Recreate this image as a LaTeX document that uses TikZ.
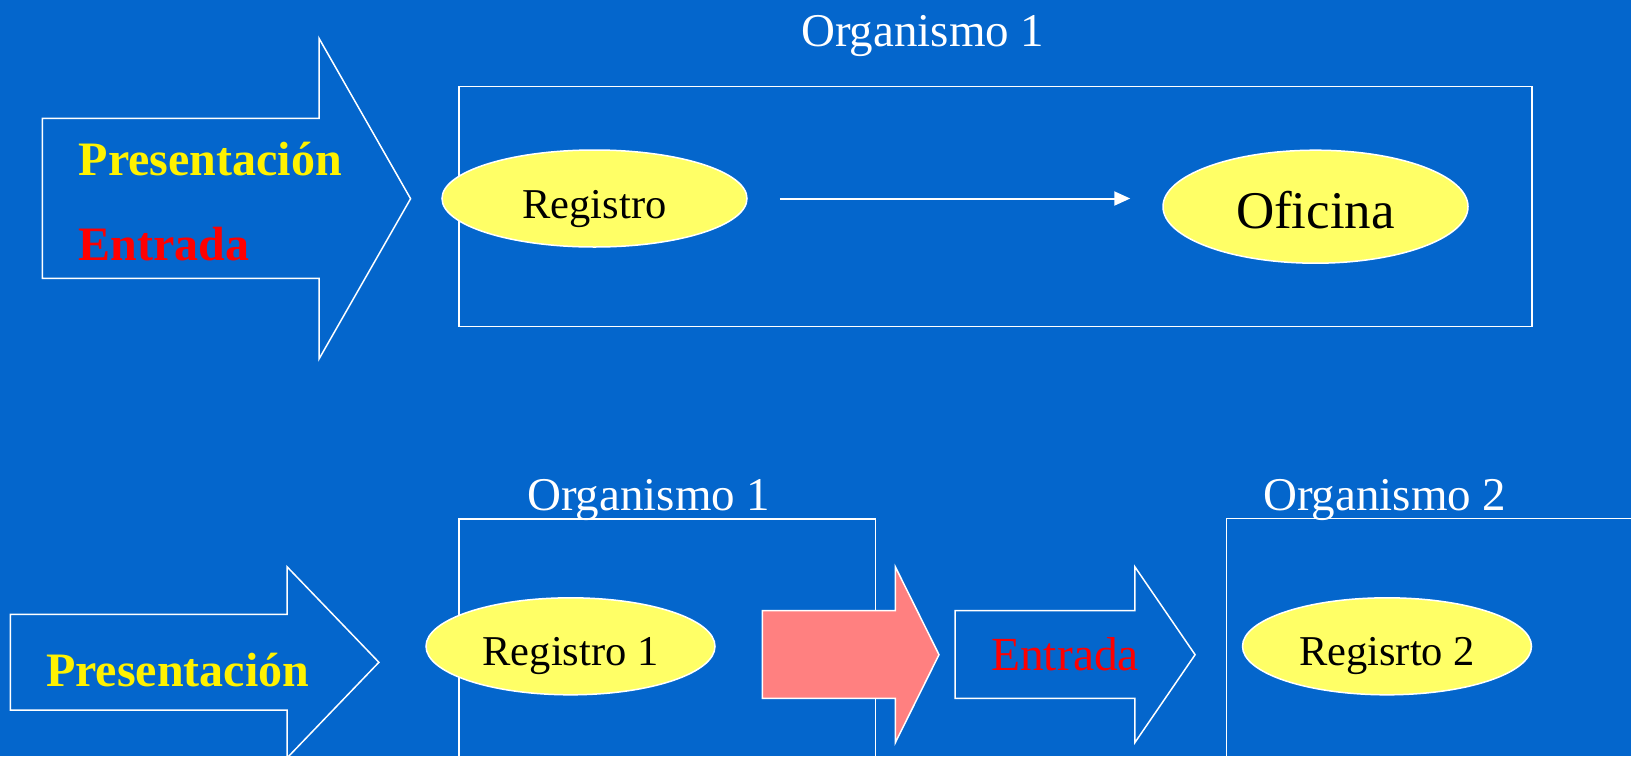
\documentclass[tikz,border=0pt]{standalone}
\usepackage{fontspec}
\setmainfont{Liberation Serif}
\usetikzlibrary{shapes.geometric,arrows.meta,positioning}

\definecolor{slideblue}{RGB}{4,102,204}
\definecolor{notepad}{RGB}{255,255,102}
\definecolor{salmon}{RGB}{255,128,128}

\begin{document}
\begin{tikzpicture}[x=1pt,y=-1pt,
    office/.style={ellipse,
          draw=white,
          line width=1.5pt,
          fill=notepad,
          inner sep=0pt,
          text depth=0pt,
          text=black},
    frame/.style={draw=white, line width=1.5pt},
    fatarrow/.style={draw=white, line width=1.5pt, line join=miter},
    caption/.style={anchor=base west, inner sep=0pt, text=white,
          font=\fontsize{47}{56}\selectfont}]

   \fill[slideblue] (0,0) rectangle (1631,756);
   \clip (0,0) rectangle (1631,756);

   % first case: one organism
   \draw[fatarrow] (42.4,118.3) -- (319,118.3) -- (319,38.3) -- (410.6,198.7)
        -- (319,359) -- (319,278.3) -- (42.4,278.3) -- cycle;
   \node[anchor=base west, inner sep=0pt,
          text=yellow,
          font=\fontsize{48}{58}\selectfont\bfseries] (pres) at (78.5,175) {Presentación};
   \node[anchor=base west, inner sep=0pt,
          text=red,
          font=\fontsize{48}{58}\selectfont\bfseries] (ent) at (78.5,260) {Entrada};

   \draw[frame] (459,86.7) rectangle (1531.8,326.7);
   \node[caption] (org) at (801,46.7) {Organismo 1};

   \node[office,
          minimum width=305pt,
          minimum height=97pt,
          text height=39.6pt,
          font=\fontsize{42.5}{51}\selectfont] (reg) at (594.5,198.5) {Registro};
   \node[office,
          minimum width=305pt,
          minimum height=113pt,
          text height=43.2pt,
          font=\fontsize{53}{64}\selectfont] (ofi) at (1315.5,206.7) {Oficina};

   % Connect the offices
   \draw[white, line width=2pt,
          shorten <=32pt, shorten >=32pt,
          -{Triangle[length=16pt,width=14pt]}]
        (reg) -- (reg -| ofi.west);

   % second case: two organisms
   \draw[frame] (459,820) -- (459,519) -- (875.4,519) -- (875.4,820);
   \draw[frame] (1226.7,820) -- (1226.7,518.3) -- (1700,518.3);
   \node[caption] (orga) at (527,510.7) {Organismo 1};
   \node[caption] (orgb) at (1263,510.7) {Organismo 2};

   \draw[fatarrow] (10.3,614.3) -- (287,614.3) -- (287,566.7) -- (378.9,662.3)
        -- (287,758) -- (287,710) -- (10.3,710) -- cycle;
   \node[anchor=base west, inner sep=0pt,
          text=yellow,
          font=\fontsize{48}{58}\selectfont\bfseries] (presb) at (46,686.7) {Presentación};

   \node[office,
          minimum width=289pt,
          minimum height=97pt,
          text height=37.4pt,
          font=\fontsize{42.5}{51}\selectfont] (rega) at (570.5,646.3) {Registro 1};
   \node[office,
          minimum width=289pt,
          minimum height=97pt,
          text height=37.4pt,
          font=\fontsize{42.5}{51}\selectfont] (regb) at (1387,646.3) {Regisrto 2};

   \draw[fatarrow, fill=salmon] (762.3,610.7) -- (895.3,610.7) -- (895.3,566.7) -- (939,654.7)
        -- (895.3,742.7) -- (895.3,698.3) -- (762.3,698.3) -- cycle;
   \draw[fatarrow] (955.2,610.7) -- (1134.8,610.7) -- (1134.8,566.7) -- (1195.1,654.7)
        -- (1134.8,742.7) -- (1134.8,698.3) -- (955.2,698.3) -- cycle;
   \node[anchor=base west, inner sep=0pt,
          text=red,
          font=\fontsize{47.5}{57}\selectfont] (entb) at (991,670.7) {Entrada};
\end{tikzpicture}
\end{document}
